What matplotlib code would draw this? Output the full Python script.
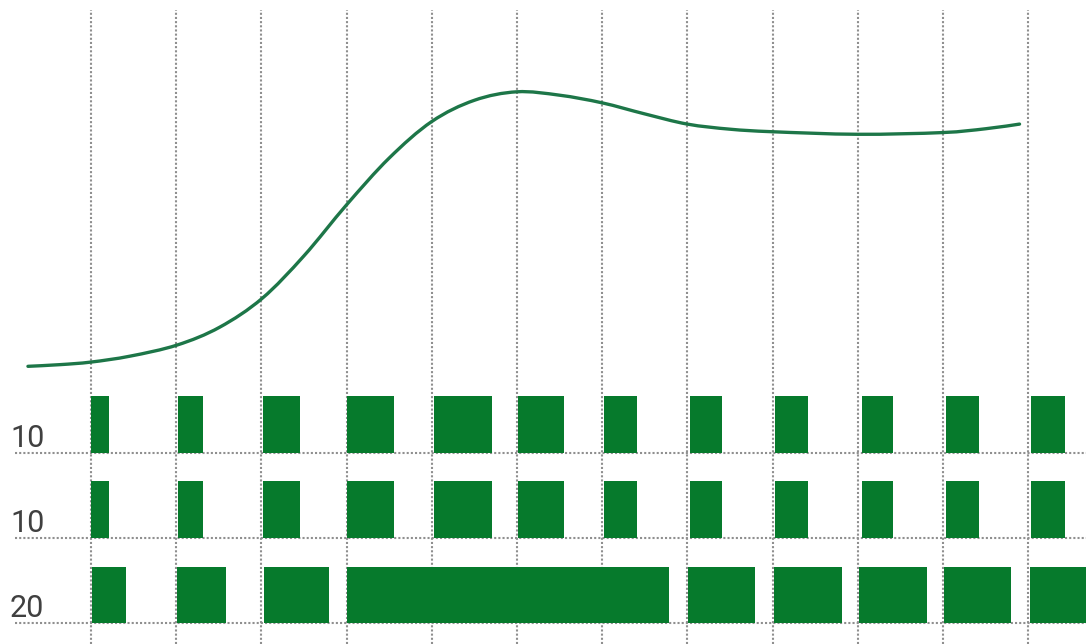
import matplotlib
matplotlib.use("Agg")
import matplotlib.pyplot as plt
from matplotlib.path import Path
from matplotlib.patches import PathPatch

# ---- data ----
grid_positions = list(range(12))

row_labels = ["20", "10", "10"]          # bottom, middle, top rows
row_levels = [0, 1, 2]

# top row (label "10")
row_top_starts = [0.0, 1.02, 2.02, 3.0, 4.03, 5.01, 6.02, 7.03, 8.03, 9.05, 10.04, 11.04]
row_top_widths = [0.21, 0.29, 0.43, 0.56, 0.68, 0.54, 0.39, 0.38, 0.39, 0.36, 0.38, 0.39]

# middle row (label "10")
row_mid_starts = [0.0, 1.02, 2.02, 3.0, 4.03, 5.01, 6.02, 7.03, 8.03, 9.05, 10.04, 11.04]
row_mid_widths = [0.21, 0.29, 0.43, 0.56, 0.68, 0.54, 0.39, 0.38, 0.39, 0.36, 0.38, 0.39]

# bottom row (label "20")
row_bot_starts = [0.01, 1.01, 2.03, 3.0, 7.01, 8.02, 9.02, 10.01, 11.02]
row_bot_widths = [0.40, 0.58, 0.76, 3.79, 0.79, 0.79, 0.79, 0.79, 0.80]

curve_x = [-0.74, -0.36, 0.0, 0.46, 1.01, 1.51, 2.01, 2.5, 3.0, 3.5, 4.0, 4.5,
           5.0, 5.5, 6.0, 6.5, 7.0, 7.5, 8.0, 9.0, 9.99, 10.5, 10.9]
curve_y = [3.02, 3.04, 3.07, 3.14, 3.27, 3.48, 3.82, 4.32, 4.92, 5.47, 5.90, 6.15,
           6.25, 6.21, 6.12, 5.99, 5.87, 5.81, 5.78, 5.75, 5.77, 5.815, 5.87]

# ---- style ----
bar_color = "#067a2c"
line_color = "#1d7648"
grid_color = "#8f8f8f"

fig = plt.figure(figsize=(10.86, 6.44), dpi=100)
ax = fig.add_axes([0, 0, 1, 1])
ax.set_xlim(-1.068, 11.68)
ax.set_ylim(-0.247, 7.33)
ax.axis("off")

# vertical dotted grid lines
ax.vlines(grid_positions, -0.247, 7.21, colors=grid_color, linestyles=(0, (1, 1)),
          linewidth=1.5, zorder=1)
# horizontal dotted baselines
ax.hlines(row_levels, -0.89, 11.68, colors=grid_color, linestyles=(0, (1, 1)),
          linewidth=1.5, zorder=1)

# bars
for starts, widths, lvl, h in [(row_top_starts, row_top_widths, 2, 0.67),
                               (row_mid_starts, row_mid_widths, 1, 0.67),
                               (row_bot_starts, row_bot_widths, 0, 0.66)]:
    ax.barh([lvl] * len(starts), widths, left=starts, height=h, align="edge",
            color=bar_color, edgecolor="none", zorder=2)

# row labels
for lbl, lvl in zip(row_labels, row_levels):
    ax.text(-0.95, lvl + 0.07, lbl, fontsize=22, color="#404040",
            family="Roboto", fontweight="normal", ha="left", va="baseline", zorder=3)

# smooth curve through the read points (Catmull-Rom drawn as cubic Bezier)
pts = list(zip(curve_x, curve_y))
verts = [pts[0]]
codes = [Path.MOVETO]
n = len(pts)
for i in range(n - 1):
    p0 = pts[i - 1] if i > 0 else pts[i]
    p1 = pts[i]
    p2 = pts[i + 1]
    p3 = pts[i + 2] if i + 2 < n else pts[i + 1]
    c1 = (p1[0] + (p2[0] - p0[0]) / 6.0, p1[1] + (p2[1] - p0[1]) / 6.0)
    c2 = (p2[0] - (p3[0] - p1[0]) / 6.0, p2[1] - (p3[1] - p1[1]) / 6.0)
    verts += [c1, c2, p2]
    codes += [Path.CURVE4, Path.CURVE4, Path.CURVE4]
ax.add_patch(PathPatch(Path(verts, codes), facecolor="none", edgecolor=line_color,
                       linewidth=2.4, capstyle="round", joinstyle="round", zorder=3))

fig.savefig("out.png", dpi=100)
